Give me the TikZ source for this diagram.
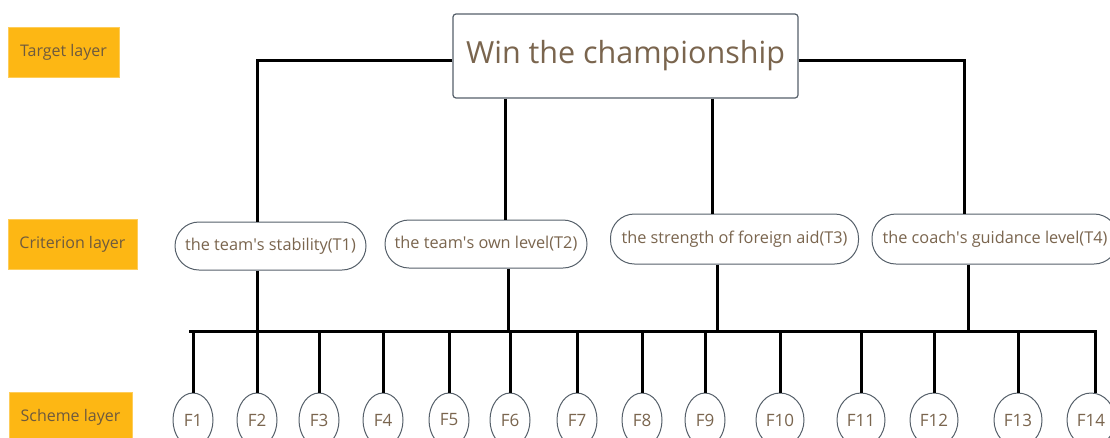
\documentclass[tikz,border=0pt]{standalone}
\usepackage{fontspec}
\setmainfont{Open Sans}
\usetikzlibrary{shapes.geometric,calc}
\definecolor{lay}{HTML}{FDB714}
\definecolor{laytext}{HTML}{6E5A3E}
\definecolor{txt}{HTML}{7A654E}
\definecolor{edge}{HTML}{56606A}
\newcommand{\apo}{\textquotesingle}
\tikzset{
  layerbox/.style={fill=lay,draw=lay!70!white,line width=0.6pt,text=laytext,font=\fontsize{16}{18}\selectfont,inner sep=0pt,minimum height=50pt},
  crit/.style={draw=edge,line width=1pt,rounded corners=24pt,text=txt,font=\fontsize{16.3}{18}\selectfont,inner sep=0pt,minimum height=48pt,fill=white},
  fnode/.style={ellipse,draw=edge,line width=1pt,text=txt,font=\fontsize{17}{19}\selectfont,inner sep=0pt,minimum height=54pt,minimum width=40pt,fill=white},
  fwide/.style={fnode,minimum width=48pt},
  conn/.style={line width=3pt,black},
}
\begin{document}
\begin{tikzpicture}[x=1pt,y=-1pt]
\useasboundingbox (0,0) rectangle (1110,437);
\clip (0,0) rectangle (1110,437);
% layer labels
\node[layerbox,minimum width=111pt] (lt) at (63.5,52) {Target layer};
\node[layerbox,minimum width=129pt] (lc) at (72.5,244) {Criterion layer};
\node[layerbox,minimum width=123pt] (ls) at (70.5,417) {Scheme layer};
% goal
\node[draw=edge,line width=1.2pt,rounded corners=3pt,text=txt,font=\fontsize{30.5}{34}\selectfont,minimum width=345pt,minimum height=84pt,inner sep=0pt,fill=white] (goal) at (625.5,56) {Win the championship};
% criteria
\node[crit,minimum width=191pt] (t1) at (270.5,246) {the team\apo s stability(T1)};
\node[crit,minimum width=202pt] (t2) at (486,244) {the team\apo s own level(T2)};
\node[crit,minimum width=248pt,minimum height=50pt] (t3) at (734.5,239) {the strength of foreign aid(T3)};
\node[crit,minimum width=246pt,minimum height=50pt] (t4) at (995,239) {the coach\apo s guidance level(T4)};
% scheme nodes
\foreach \n/\x in {1/193,2/257,3/319,4/383,5/449,6/510,7/577,8/642,9/705}{
  \node[fnode] (f\n) at (\x,420) {F\n};
}
\foreach \n/\x in {10/780,11/861,12/934,13/1018,14/1091}{
  \node[fwide] (f\n) at (\x,420) {F\n};
}
% bus coordinates
\coordinate (busL) at (190,331);
\coordinate (busR) at (1095,331);
% goal to criteria
\draw[conn] ([yshift=-4pt]goal.west) -| (t1.north -| 257,0);
\draw[conn] (goal.south -| 505,0) -- (t2.north -| 505,0);
\draw[conn] (goal.south -| 712,0) -- (t3.north -| 712,0);
\draw[conn] ([yshift=-4pt]goal.east) -| (t4.north -| 964,0);
% criteria to bus
\draw[conn] (t1.south -| 257,0) -- (busL -| 257,0);
\draw[conn] (t2.south -| 508,0) -- (busL -| 508,0);
\draw[conn] (t3.south -| 717,0) -- (busL -| 717,0);
\draw[conn] (t4.south -| 968,0) -- (busL -| 968,0);
% bus
\draw[conn,line cap=rect] (busL) -- (busR);
% bus to schemes
\foreach \n in {1,...,13}{
  \draw[conn] (busL -| f\n.north) -- (f\n.north);
}
\draw[conn] (busR) -- ([xshift=4pt]f14.north);
\end{tikzpicture}
\end{document}
